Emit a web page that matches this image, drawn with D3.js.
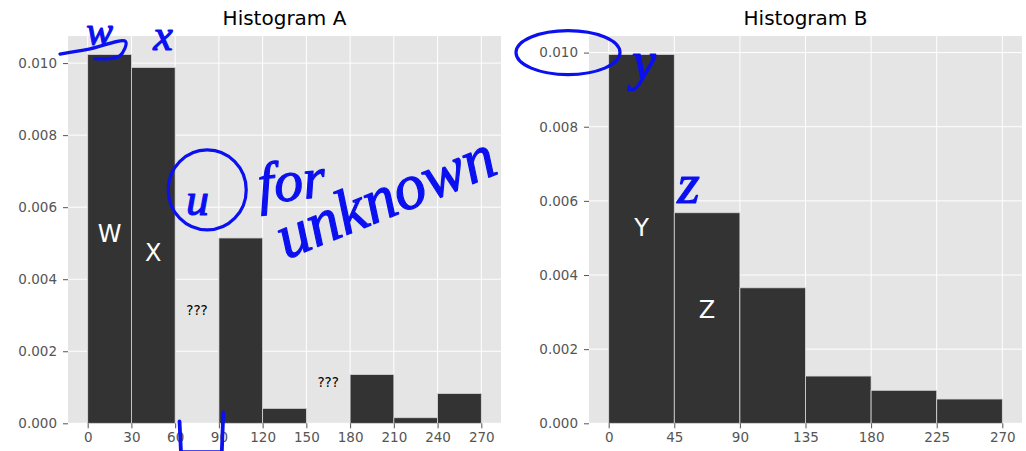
<!DOCTYPE html>
<html>
<head>
<meta charset="utf-8">
<script src="https://cdnjs.cloudflare.com/ajax/libs/d3/7.8.5/d3.min.js"></script>
<style>
  body { margin: 0; background: #fff; }
  svg text { font-family: "DejaVu Sans", sans-serif; }
</style>
</head>
<body>
<div id="chart"></div>
<script>
// Histogram A: 9 bins of width 30 (two are unknown -> drawn as 0)
var binsA = [0, 30, 60, 90, 120, 150, 180, 210, 240, 270]
var valuesA = [0.01024, 0.00988, 0, 0.005145, 0.000415, 0, 0.001355, 0.000155, 0.00083]
var ticksA = [0, 30, 60, 90, 120, 150, 180, 210, 240, 270]
var labelsA = [
    ['W', 15, 0.00528, 'big'],
    ['X', 45, 0.00474, 'big'],
    ['???', 75, 0.00313, 'small'],
    ['???', 165, 0.00114, 'small']
]

// Histogram B: 6 bins of width 45
var binsB = [0, 45, 90, 135, 180, 225, 270]
var valuesB = [0.00995, 0.00568, 0.003655, 0.001275, 0.00089, 0.000655]
var ticksB = [0, 45, 90, 135, 180, 225, 270]
var labelsB = [
    ['Y', 22.5, 0.00528, 'big'],
    ['Z', 67.5, 0.00308, 'big']
]

var yTicks = [0, 0.002, 0.004, 0.006, 0.008, 0.010]

var W = 1026, H = 451
var svg = d3.select("#chart").append("svg")
    .attr("width", W)
    .attr("height", H)

var blue = "#0a10f0"

function panel(opts) {
    var left = opts.left, right = opts.right, top = 36, bottom = 423.3
    var g = svg.append("g")
    var lo = opts.bins[0], hi = opts.bins[opts.bins.length - 1]
    var pad = (hi - lo) * 0.05
    var x = d3.scaleLinear().domain([lo - pad, hi + pad]).range([left, right])
    var ymax = d3.max(opts.values) * 1.05
    var y = d3.scaleLinear().domain([0, ymax]).range([bottom, top])

    g.append("rect")
        .attr("x", left).attr("y", top)
        .attr("width", right - left).attr("height", bottom - top)
        .attr("fill", "#e5e5e5")

    // grid
    g.selectAll(".vg").data(opts.ticks).enter().append("line")
        .attr("x1", d => x(d)).attr("x2", d => x(d))
        .attr("y1", top).attr("y2", bottom)
        .attr("stroke", "#fff").attr("stroke-width", 1)
    g.selectAll(".hg").data(yTicks).enter().append("line")
        .attr("x1", left).attr("x2", right)
        .attr("y1", d => y(d)).attr("y2", d => y(d))
        .attr("stroke", "#fff").attr("stroke-width", 1)

    var bars = opts.values.map((v, i) => ({x0: opts.bins[i], x1: opts.bins[i + 1], v: v}))
    g.selectAll(".bar").data(bars).enter().append("rect")
        .attr("x", d => x(d.x0))
        .attr("width", d => x(d.x1) - x(d.x0))
        .attr("y", d => y(d.v))
        .attr("height", d => bottom - y(d.v))
        .attr("fill", "#333333")
        .attr("stroke", d => d.v > 0 ? "#d8d8d8" : "none")
        .attr("stroke-width", 0.8)

    // axes
    var xa = g.append("g")
        .attr("transform", "translate(0," + bottom + ")")
        .call(d3.axisBottom(x).tickValues(opts.ticks).tickSize(5).tickPadding(4.5))
    var ya = g.append("g")
        .attr("transform", "translate(" + left + ",0)")
        .call(d3.axisLeft(y).tickValues(yTicks).tickFormat(d3.format(".3f")).tickSize(5).tickPadding(6))
    ;[xa, ya].forEach(a => {
        a.select(".domain").remove()
        a.selectAll(".tick line").attr("stroke", "#555")
        a.selectAll(".tick text")
            .attr("fill", "#555")
            .style("font-size", "13.5px")
    })

    g.append("text")
        .attr("x", (left + right) / 2)
        .attr("y", 25)
        .attr("text-anchor", "middle")
        .style("font-size", "20px")
        .attr("fill", "#000")
        .text(opts.title)

    opts.labels.forEach(l => {
        g.append("text")
            .attr("x", x(l[1]))
            .attr("y", y(l[2]))
            .attr("dy", "0.36em")
            .attr("text-anchor", "middle")
            .attr("fill", l[3] == 'big' ? "#fff" : "#000")
            .style("font-size", l[3] == 'big' ? "24px" : "13.6px")
            .text(l[0])
    })
    return {g: g, x: x, y: y}
}

var A = panel({left: 68, right: 501, bins: binsA, values: valuesA, ticks: ticksA, labels: labelsA, title: "Histogram A"})
var B = panel({left: 589, right: 1022, bins: binsB, values: valuesB, ticks: ticksB, labels: labelsB, title: "Histogram B"})

// hand-drawn annotations (blue ink), placed in data space
var ink = svg.append("g")
    .attr("fill", "none")
    .attr("stroke", blue)
    .attr("stroke-width", 3.2)
    .attr("stroke-linecap", "round")
    .attr("stroke-linejoin", "round")
var line = (p, sc, curve) => d3.line().curve(curve || d3.curveCatmullRom)(p.map(d => [sc.x(d[0]), sc.y(d[1])]))

var handText = function(sc, txt, xv, yv, size, rot) {
    var px = sc.x(xv), py = sc.y(yv)
    ink.append("text")
        .attr("x", px).attr("y", py)
        .attr("transform", "rotate(" + (rot || 0) + "," + px + "," + py + ")")
        .attr("fill", blue)
        .attr("stroke", blue)
        .attr("stroke-width", 1.2)
        .style("font-family", "Liberation Serif, serif")
        .style("font-style", "italic")
        .style("font-size", size + "px")
        .text(txt)
}

// Histogram A: "w", "x", stroke to bar top, circled u, "for unknown", bracket
handText(A, "w", -1, 0.0105, 40, 0)
handText(A, "x", 45, 0.01035, 44, 0)
ink.append("path").attr("d", line([[-19, 0.01025], [0, 0.01038], [26, 0.0106], [22, 0.0102], [5, 0.01012]], A))
ink.append("ellipse")
    .attr("cx", A.x(82)).attr("cy", A.y(0.00648))
    .attr("rx", 39).attr("ry", 40)
handText(A, "u", 67.5, 0.00578, 46, 0)
handText(A, "for", 118, 0.0061, 58, -6)
handText(A, "unknown", 136, 0.00455, 64, -22)
ink.append("path").attr("d", line([[63, 0.00005], [64, -0.0008], [92, -0.0008], [93, 0.0003]], A, d3.curveLinear))
    .attr("stroke-width", 3.8)

// Histogram B: circled 0.010 label, "y", "z"
ink.append("ellipse")
    .attr("cx", 568).attr("cy", B.y(0.01))
    .attr("rx", 52).attr("ry", 22)
handText(B, "y", 16, 0.0093, 54, 0)
handText(B, "z", 47, 0.00595, 58, 0)
</script>
</body>
</html>
